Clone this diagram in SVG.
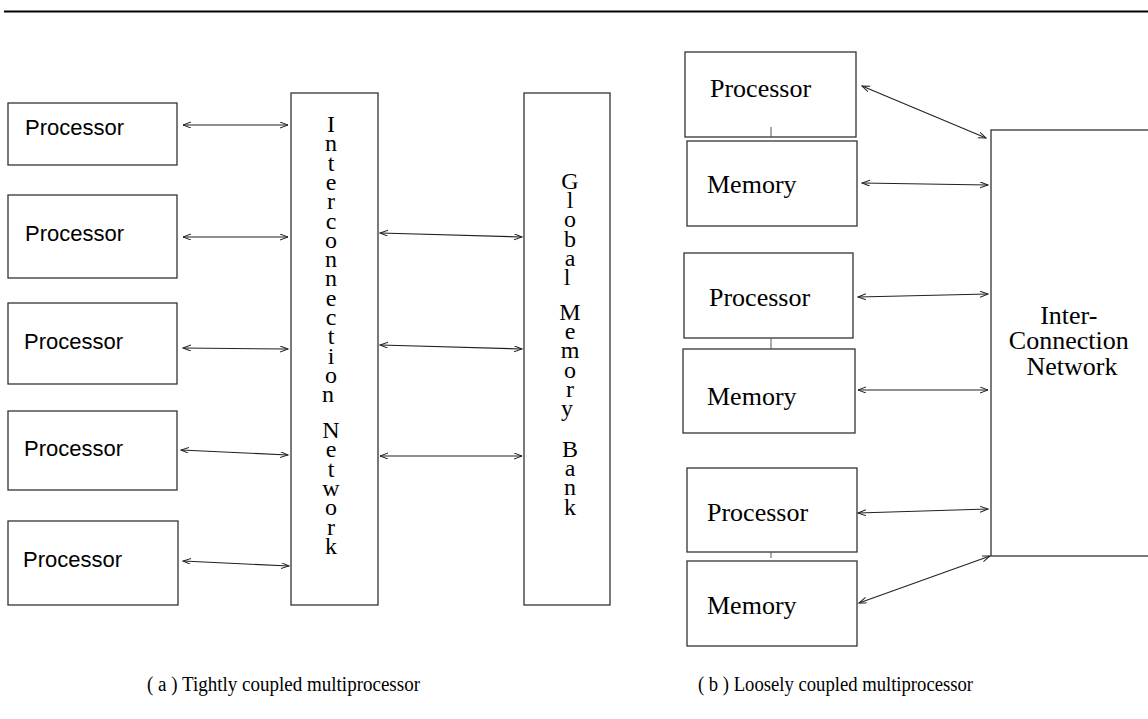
<svg xmlns="http://www.w3.org/2000/svg" width="1148" height="719" viewBox="0 0 1148 719">
  <style>
    .box { fill: #fff; stroke: #333; stroke-width: 1.3; }
    .wire { fill: none; stroke: #222; stroke-width: 1.1; marker-start: url(#head); marker-end: url(#head); }
    .tick { stroke: #555; stroke-width: 1; }
    .sans { font-family: "Liberation Sans", Arial, sans-serif; font-size: 22px; fill: #000; }
    .serif { font-family: "Liberation Serif", "Times New Roman", serif; font-size: 26px; fill: #000; }
    .vert { font-family: "Liberation Serif", "Times New Roman", serif; font-size: 24px; fill: #000; text-anchor: middle; }
    .cap { font-family: "Liberation Serif", "Times New Roman", serif; font-size: 20px; fill: #000; }
  </style>
  <defs>
    <marker id="head" markerUnits="userSpaceOnUse" markerWidth="12" markerHeight="10" refX="8" refY="3" orient="auto-start-reverse">
      <path d="M0,0 L8,3 L0,6" fill="none" stroke="#222" stroke-width="1"/>
    </marker>
  </defs>

  <rect width="1148" height="719" fill="#fff"/>
  <line x1="4" y1="11.5" x2="1148" y2="11.5" stroke="#000" stroke-width="2.2"/>

  <!-- (a) tightly coupled: five processors -->
  <g id="pa1"><rect class="box" x="8" y="103" width="169" height="62"/><text class="sans" x="25" y="135">Processor</text></g>
  <g id="pa2"><rect class="box" x="8" y="195" width="169" height="83"/><text class="sans" x="25" y="241">Processor</text></g>
  <g id="pa3"><rect class="box" x="8" y="303" width="169" height="81"/><text class="sans" x="24" y="349">Processor</text></g>
  <g id="pa4"><rect class="box" x="8" y="411" width="169" height="79"/><text class="sans" x="24" y="456">Processor</text></g>
  <g id="pa5"><rect class="box" x="8" y="521" width="170" height="84"/><text class="sans" x="23" y="567">Processor</text></g>

  <!-- interconnection network column -->
  <g id="icn">
    <rect class="box" x="291" y="93" width="87" height="512"/>
    <text class="vert">
      <tspan x="331" y="132">I</tspan><tspan x="331" y="151.3">n</tspan><tspan x="331" y="170.6">t</tspan><tspan x="331" y="189.9">e</tspan><tspan x="331" y="209.2">r</tspan><tspan x="331" y="228.5">c</tspan><tspan x="331" y="247.8">o</tspan><tspan x="331" y="267.1">n</tspan><tspan x="331" y="286.4">n</tspan><tspan x="331" y="305.7">e</tspan><tspan x="331" y="325">c</tspan><tspan x="331" y="344.3">t</tspan><tspan x="331" y="363.6">i</tspan><tspan x="331" y="382.9">o</tspan><tspan x="331" y="402.2">n</tspan>
      <tspan x="331" y="438">N</tspan><tspan x="331" y="457.3">e</tspan><tspan x="331" y="476.6">t</tspan><tspan x="331" y="495.9">w</tspan><tspan x="331" y="515.2">o</tspan><tspan x="331" y="534.5">r</tspan><tspan x="331" y="553.8">k</tspan>
    </text>
  </g>

  <!-- global memory bank column -->
  <g id="gmb">
    <rect class="box" x="524" y="93" width="86" height="512"/>
    <text class="vert">
      <tspan x="570" y="189">G</tspan><tspan x="570" y="208.2">l</tspan><tspan x="570" y="227.4">o</tspan><tspan x="570" y="246.6">b</tspan><tspan x="570" y="265.8">a</tspan><tspan x="570" y="285">l</tspan>
      <tspan x="570" y="320">M</tspan><tspan x="570" y="339.2">e</tspan><tspan x="570" y="358.4">m</tspan><tspan x="570" y="377.6">o</tspan><tspan x="570" y="396.8">r</tspan><tspan x="570" y="416">y</tspan>
      <tspan x="570" y="457">B</tspan><tspan x="570" y="476.2">a</tspan><tspan x="570" y="495.4">n</tspan><tspan x="570" y="514.6">k</tspan>
    </text>
  </g>

  <!-- (b) loosely coupled: processor/memory pairs -->
  <g id="pb1"><rect class="box" x="685" y="52" width="171" height="85"/><text class="serif" x="710" y="97">Processor</text></g>
  <g id="mb1"><rect class="box" x="687" y="141" width="170" height="85"/><text class="serif" x="707" y="193">Memory</text></g>
  <g id="pb2"><rect class="box" x="684" y="253" width="169" height="85"/><text class="serif" x="709" y="306">Processor</text></g>
  <g id="mb2"><rect class="box" x="683" y="349" width="172" height="84"/><text class="serif" x="707" y="405">Memory</text></g>
  <g id="pb3"><rect class="box" x="687" y="468" width="170" height="84"/><text class="serif" x="707" y="521">Processor</text></g>
  <g id="mb3"><rect class="box" x="687" y="561" width="170" height="85"/><text class="serif" x="707" y="614">Memory</text></g>

  <g id="net">
    <rect class="box" x="991" y="130" width="170" height="426"/>
    <text class="serif" text-anchor="middle">
      <tspan x="1072" y="324">Inter-</tspan>
      <tspan x="1072" y="349">Connection</tspan>
      <tspan x="1072" y="375">Network</tspan>
    </text>
  </g>

  <g id="connectors">
    <!-- processors to interconnection network -->
    <line class="wire" x1="183" y1="125" x2="288" y2="125"/>
    <line class="wire" x1="183" y1="237" x2="288" y2="237"/>
    <line class="wire" x1="183" y1="348" x2="288" y2="349"/>
    <line class="wire" x1="181" y1="450" x2="288" y2="455"/>
    <line class="wire" x1="183" y1="561" x2="289" y2="566"/>
    <!-- interconnection network to memory bank -->
    <line class="wire" x1="380" y1="233" x2="522" y2="237"/>
    <line class="wire" x1="380" y1="345" x2="522" y2="349"/>
    <line class="wire" x1="380" y1="456" x2="522" y2="456"/>
    <!-- processor/memory links -->
    <line class="tick" x1="771" y1="127" x2="771" y2="137"/>
    <line class="tick" x1="771" y1="338" x2="771" y2="349"/>
    <line class="tick" x1="771" y1="552" x2="771" y2="558"/>
    <!-- nodes to network -->
    <line class="wire" x1="862" y1="86" x2="986" y2="138"/>
    <line class="wire" x1="862" y1="183" x2="988" y2="185"/>
    <line class="wire" x1="858" y1="297" x2="988" y2="294"/>
    <line class="wire" x1="858" y1="390" x2="988" y2="390"/>
    <line class="wire" x1="858" y1="513" x2="988" y2="509"/>
    <line class="wire" x1="859" y1="603" x2="990" y2="556"/>
  </g>

  <g id="captions">
    <text class="cap" x="147" y="691" textLength="273" lengthAdjust="spacingAndGlyphs">( a ) Tightly coupled multiprocessor</text>
    <text class="cap" x="698" y="691" textLength="275" lengthAdjust="spacingAndGlyphs">( b ) Loosely coupled multiprocessor</text>
  </g>
</svg>
